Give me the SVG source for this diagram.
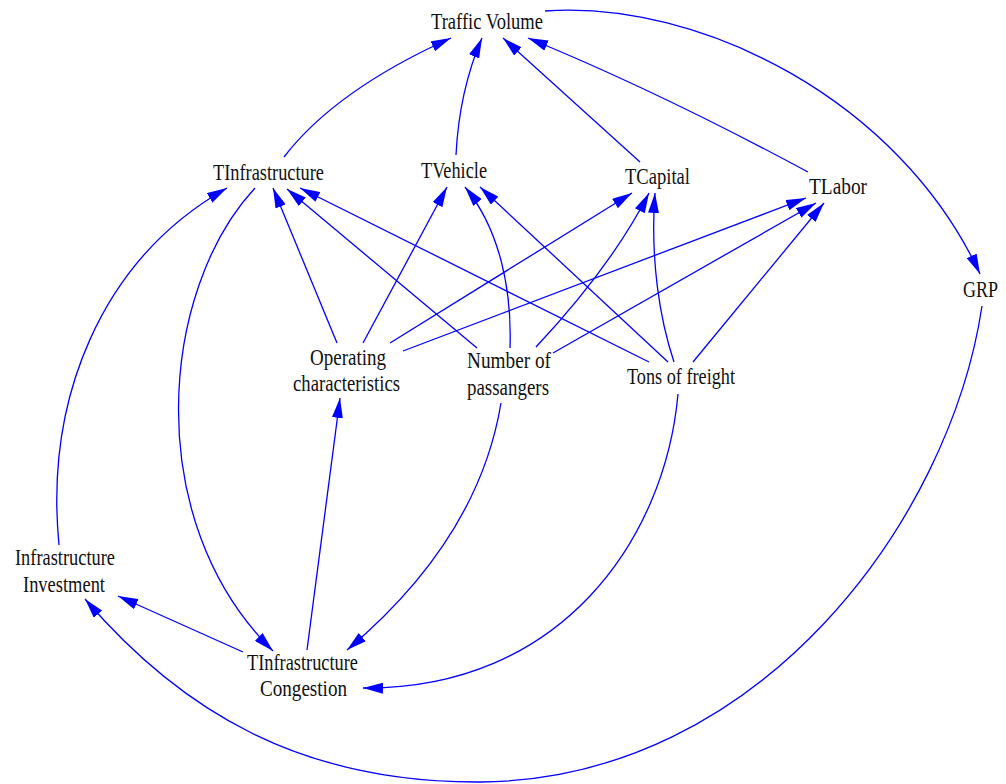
<svg xmlns="http://www.w3.org/2000/svg" width="1006" height="784" viewBox="0 0 1006 784">
<style>
text{font-family:"Liberation Serif","Times New Roman",serif;font-size:24px;fill:#111;}
.e{fill:none;stroke:#0000ff;stroke-width:1.3;marker-end:url(#ah);}
</style>
<defs>
<marker id="ah" viewBox="0 0 20 11" markerWidth="20" markerHeight="11" refX="20" refY="5.5" orient="auto" markerUnits="userSpaceOnUse">
<path d="M0,0 L20,5.5 L0,11 z" fill="#0000ff"/>
</marker>
</defs>
<rect width="1006" height="784" fill="#fff"/>
<g id="connectors">
<path class="e" d="M284,157 C320,110 380,70 451,38"/>
<path class="e" d="M456,155 C458,115 466,75 482,38"/>
<path class="e" d="M640,162 L503,38"/>
<path class="e" d="M808,172 C730,130 640,84 528,38"/>
<path class="e" d="M545,11 C700,0 900,100 980,274"/>
<path class="e" d="M982,306 C950,520 760,780 480,782 C300,783 180,710 85,599"/>
<path class="e" d="M59,545 C45,400 100,260 227,188"/>
<path class="e" d="M255,188 C160,290 140,520 273,651"/>
<path class="e" d="M243,652 L118,596"/>
<path class="e" d="M307,650 L340,398"/>
<path class="e" d="M501,403 C485,500 430,580 347,650"/>
<path class="e" d="M678,394 C665,540 560,690 363,688"/>
<path class="e" d="M337,343 L273,188"/>
<path class="e" d="M363,343 L447,187"/>
<path class="e" d="M390,343 L632,193"/>
<path class="e" d="M403,351 L806,198"/>
<path class="e" d="M477,348 L287,189"/>
<path class="e" d="M510,348 C512,290 500,230 465,187"/>
<path class="e" d="M536,347 C580,300 620,250 649,193"/>
<path class="e" d="M553,353 L816,203"/>
<path class="e" d="M649,362 L300,188"/>
<path class="e" d="M668,362 L480,187"/>
<path class="e" d="M674,362 C660,320 650,260 655,193"/>
<path class="e" d="M693,362 L824,203"/>
</g>
<g id="traffic-volume"><text x="431" y="29" textLength="112" lengthAdjust="spacingAndGlyphs">Traffic Volume</text></g>
<g id="tinfrastructure"><text x="213" y="180" textLength="111" lengthAdjust="spacingAndGlyphs">TInfrastructure</text></g>
<g id="tvehicle"><text x="421" y="178" textLength="66" lengthAdjust="spacingAndGlyphs">TVehicle</text></g>
<g id="tcapital"><text x="625" y="184" textLength="65" lengthAdjust="spacingAndGlyphs">TCapital</text></g>
<g id="tlabor"><text x="809" y="194" textLength="58" lengthAdjust="spacingAndGlyphs">TLabor</text></g>
<g id="grp"><text transform="translate(963,297) scale(1,1.33)" x="0" y="0" style="font-size:18px">GRP</text></g>
<g id="operating-characteristics">
<text x="310" y="365" textLength="76" lengthAdjust="spacingAndGlyphs">Operating</text>
<text x="293" y="391" textLength="107" lengthAdjust="spacingAndGlyphs">characteristics</text>
</g>
<g id="number-of-passangers">
<text x="467" y="368" textLength="84" lengthAdjust="spacingAndGlyphs">Number of</text>
<text x="467" y="395" textLength="82" lengthAdjust="spacingAndGlyphs">passangers</text>
</g>
<g id="tons-of-freight"><text x="627" y="384" textLength="108" lengthAdjust="spacingAndGlyphs">Tons of freight</text></g>
<g id="infrastructure-investment">
<text x="15" y="565" textLength="100" lengthAdjust="spacingAndGlyphs">Infrastructure</text>
<text x="23" y="592" textLength="82" lengthAdjust="spacingAndGlyphs">Investment</text>
</g>
<g id="tinfrastructure-congestion">
<text x="247" y="670" textLength="111" lengthAdjust="spacingAndGlyphs">TInfrastructure</text>
<text x="260" y="696" textLength="87" lengthAdjust="spacingAndGlyphs">Congestion</text>
</g>
</svg>
